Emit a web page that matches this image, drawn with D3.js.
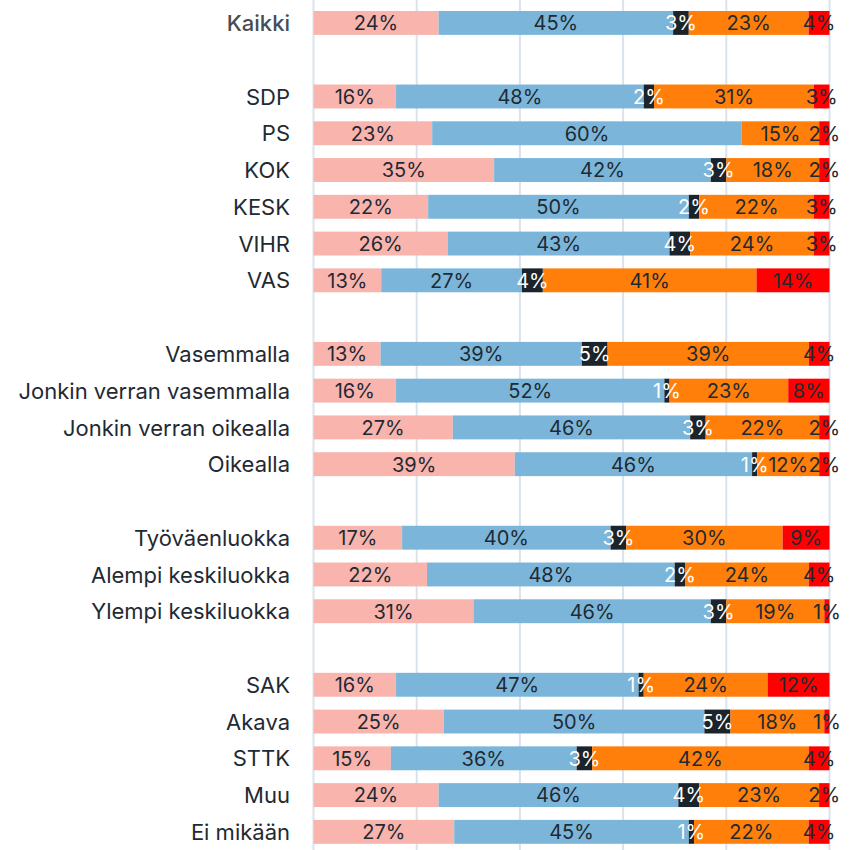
<!DOCTYPE html>
<html lang="fi">
<head>
    <meta charset="UTF-8">
    <title>Chart</title>
    <style>
        body { margin: 0; background: #fff; }
        text { font-family: Inter, "Noto Sans", sans-serif; }
    </style>
</head>
<script src="https://cdn.jsdelivr.net/npm/d3@7"></script>
<body>
    <svg width="858" height="850"></svg>
</body>

<script>
    // rows, with "" marking the empty slots between the groups
    var categories = ["Kaikki", "",
        "SDP", "PS", "KOK", "KESK", "VIHR", "VAS", "",
        "Vasemmalla", "Jonkin verran vasemmalla", "Jonkin verran oikealla", "Oikealla", "",
        "Työväenluokka", "Alempi keskiluokka", "Ylempi keskiluokka", "",
        "SAK", "Akava", "STTK", "Muu", "Ei mikään"];

    var series = ["s1", "s2", "s3", "s4", "s5"];

    var s1 = [24, null, 16, 23, 35, 22, 26, 13, null, 13, 16, 27, 39, null, 17, 22, 31, null, 16, 25, 15, 24, 27];
    var s2 = [45, null, 48, 60, 42, 50, 43, 27, null, 39, 52, 46, 46, null, 40, 48, 46, null, 47, 50, 36, 46, 45];
    var s3 = [3, null, 2, 0, 3, 2, 4, 4, null, 5, 1, 3, 1, null, 3, 2, 3, null, 1, 5, 3, 4, 1];
    var s4 = [23, null, 31, 15, 18, 22, 24, 41, null, 39, 23, 22, 12, null, 30, 24, 19, null, 24, 18, 42, 23, 22];
    var s5 = [4, null, 3, 2, 2, 3, 3, 14, null, 4, 8, 2, 2, null, 9, 4, 1, null, 12, 1, 4, 2, 4];

    var colors = ["#f9b4ae", "#7bb6da", "#1b242b", "#ff7f0a", "#ff0000"];
    var labelColors = ["#1f2a33", "#1f2a33", "#ffffff", "#1f2a33", "#1f2a33"];

    var rows = categories.map(function(c, i) {
        return {key: i, name: c, s1: s1[i], s2: s2[i], s3: s3[i], s4: s4[i], s5: s5[i]};
    }).filter(function(d) { return d.name !== ""; });

    var x = d3.scaleLinear().domain([0, 1]).range([313.5, 829.5]);
    var y = d3.scaleBand()
            .domain(d3.range(categories.length))
            .range([11, 843.8])
            .paddingInner(0.35)
            .paddingOuter(0);

    var svg = d3.select("svg");

    // grid
    svg.append("g")
            .selectAll("line")
            .data(d3.range(0, 1.01, 0.2))
            .join("line")
            .attr("x1", function(d) { return x(d); })
            .attr("x2", function(d) { return x(d); })
            .attr("y1", 0)
            .attr("y2", 850)
            .attr("stroke", "#d9e3ec")
            .attr("stroke-width", 2);

    var stack = d3.stack().keys(series).offset(d3.stackOffsetExpand);
    var stacked = stack(rows);

    var layers = svg.append("g")
            .selectAll("g")
            .data(stacked)
            .join("g")
            .attr("fill", function(d, i) { return colors[i]; });

    layers.selectAll("rect")
            .data(function(d) { return d; })
            .join("rect")
            .attr("x", function(d) { return x(d[0]); })
            .attr("y", function(d) { return y(d.data.key); })
            .attr("width", function(d) { return x(d[1]) - x(d[0]); })
            .attr("height", y.bandwidth());

    // value labels
    stacked.forEach(function(layer, i) {
        svg.append("g")
                .selectAll("text")
                .data(layer.filter(function(d) { return d.data[series[i]] > 0; }))
                .join("text")
                .attr("x", function(d) { return (x(d[0]) + x(d[1])) / 2; })
                .attr("y", function(d) { return y(d.data.key) + y.bandwidth() / 2; })
                .attr("dy", "0.37em")
                .attr("text-anchor", "middle")
                .attr("font-size", 20)
                .attr("fill", labelColors[i])
                .text(function(d) { return d.data[series[i]] + "%"; });
    });

    // category labels
    svg.append("g")
            .selectAll("text")
            .data(rows)
            .join("text")
            .attr("x", 290)
            .attr("y", function(d) { return y(d.key) + y.bandwidth() / 2; })
            .attr("dy", "0.37em")
            .attr("text-anchor", "end")
            .attr("font-size", 22)
            .attr("font-weight", function(d) { return d.name == "Kaikki" ? 500 : 400; })
            .attr("fill", function(d) { return d.name == "Kaikki" ? "#474d54" : "#1f2a33"; })
            .text(function(d) { return d.name; });
</script>
</html>
